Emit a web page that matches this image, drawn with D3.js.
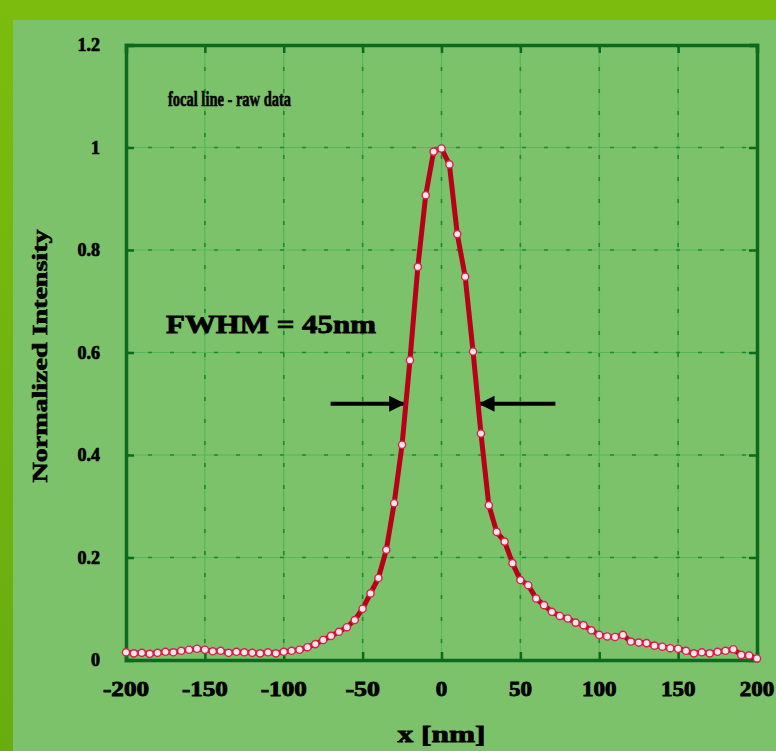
<!DOCTYPE html>
<html><head><meta charset="utf-8">
<script src="https://cdn.jsdelivr.net/npm/d3@7"></script>
<style>body{margin:0;background:#74b414;}svg{display:block}</style>
</head><body>
<svg id="c" width="776" height="751"></svg>
<script>
const xTicks = [-200,-150,-100,-50,0,50,100,150,200];
const yTicks = [0,0.2,0.4,0.6,0.8,1,1.2];
const yTickLabels = ["0","0.2","0.4","0.6","0.8","1","1.2"];
const xPos = [-200,-195,-190,-185,-180,-175,-170,-165,-160,-155,-150,-145,-140,-135,-130,-125,-120,-115,-110,-105,-100,-95,-90,-85,-80,-75,-70,-65,-60,-55,-50,-45,-40,-35,-30,-25,-20,-15,-10,-5,0,5,10,15,20,25,30,35,40,45,50,55,60,65,70,75,80,85,90,95,100,105,110,115,120,125,130,135,140,145,150,155,160,165,170,175,180,185,190,195,200];
const intensity = [0.015,0.013,0.014,0.012,0.014,0.016,0.015,0.018,0.020,0.022,0.020,0.017,0.018,0.014,0.016,0.015,0.014,0.013,0.015,0.013,0.016,0.018,0.020,0.025,0.031,0.039,0.047,0.055,0.064,0.078,0.100,0.130,0.160,0.215,0.306,0.420,0.585,0.767,0.907,0.992,0.998,0.967,0.831,0.748,0.602,0.442,0.302,0.250,0.231,0.189,0.156,0.146,0.120,0.107,0.094,0.086,0.081,0.073,0.068,0.058,0.049,0.046,0.045,0.049,0.036,0.034,0.033,0.028,0.026,0.023,0.022,0.018,0.013,0.015,0.013,0.016,0.018,0.021,0.010,0.009,0.003];
const annotations = ["focal line - raw data","FWHM = 45nm"];
const xTitle = "x [nm]";
const yTitle = "Normalized Intensity";

const svg = d3.select("#c");
const defs=svg.append("defs");
const grad=defs.append("linearGradient").attr("id","topg").attr("x1",0).attr("x2",0).attr("y1",0).attr("y2",1);
grad.append("stop").attr("offset","0%").attr("stop-color","#7cbc0e");
grad.append("stop").attr("offset","100%").attr("stop-color","#68ac10");
svg.append("rect").attr("x",0).attr("y",0).attr("width",776).attr("height",751).attr("fill","url(#topg)");
svg.append("rect").attr("x",13).attr("y",20).attr("width",763).attr("height",731).attr("fill","#7cc26a");

const L=126,R=757,T=45,B=660;
const x = d3.scaleLinear().domain([-200,200]).range([L,R]);
const y = d3.scaleLinear().domain([0,1.2]).range([B,T]);

const g = svg.append("g");
const gridCol="#58b65a", dashCol="#1f8a2a";
xTicks.slice(1,-1).forEach(t=>{
  g.append("line").attr("x1",x(t)).attr("x2",x(t)).attr("y1",T).attr("y2",B).attr("stroke",gridCol).attr("stroke-width",1.2);
  g.append("line").attr("x1",x(t)).attr("x2",x(t)).attr("y1",T).attr("y2",B).attr("stroke",dashCol).attr("stroke-width",1.6).attr("stroke-dasharray","4,18");
});
yTicks.slice(1,-1).forEach(t=>{
  g.append("line").attr("x1",L).attr("x2",R).attr("y1",y(t)).attr("y2",y(t)).attr("stroke",gridCol).attr("stroke-width",1.2);
  g.append("line").attr("x1",L).attr("x2",R).attr("y1",y(t)).attr("y2",y(t)).attr("stroke",dashCol).attr("stroke-width",1.6).attr("stroke-dasharray","4,18");
});

const frameCol="#0b6a1c";
const axB = d3.axisBottom(x).tickValues(xTicks).tickSize(-8).tickFormat("");
const axT = d3.axisTop(x).tickValues(xTicks).tickSize(-8).tickFormat("");
const axL = d3.axisLeft(y).tickValues(yTicks).tickSize(-8).tickFormat("");
const axR = d3.axisRight(y).tickValues(yTicks).tickSize(-8).tickFormat("");
[[axB,`translate(0,${B})`],[axT,`translate(0,${T})`],[axL,`translate(${L},0)`],[axR,`translate(${R},0)`]].forEach(([a,tr])=>{
  const s=g.append("g").attr("transform",tr).call(a);
  s.selectAll("path").attr("stroke",frameCol).attr("stroke-width",3.5);
  s.selectAll("line").attr("stroke",frameCol).attr("stroke-width",2.5);
});

const font="'Liberation Serif','Times New Roman',serif";
function heavy(sel,w){return sel.attr("font-family",font).attr("font-weight","bold").attr("fill","#000")
  .attr("stroke","#000").attr("stroke-width",w).attr("paint-order","stroke");}
heavy(svg.append("g").selectAll("text").data(xTicks).join("text")
  .attr("x",d=>x(d)).attr("y",696).attr("text-anchor","middle")
  .attr("font-size",20).attr("textLength",d=>String(d).length*11.5).attr("lengthAdjust","spacingAndGlyphs")
  .text(d=>String(d)),0.8);
heavy(svg.append("g").selectAll("text").data(yTicks).join("text")
  .attr("x",100).attr("y",d=>y(d)+6).attr("text-anchor","end")
  .attr("font-size",18).text((d,i)=>yTickLabels[i]),0.7);

heavy(svg.append("text").attr("x",x(0)).attr("y",742).attr("text-anchor","middle")
  .attr("font-size",24).attr("textLength",88).attr("lengthAdjust","spacingAndGlyphs").text(xTitle),0.8);
heavy(svg.append("text").attr("transform","translate(47,356) rotate(-90)").attr("text-anchor","middle")
  .attr("font-size",20).attr("textLength",253).attr("lengthAdjust","spacingAndGlyphs").text(yTitle),0.6);

heavy(svg.append("text").attr("x",168).attr("y",106)
  .attr("font-size",22).attr("textLength",123).attr("lengthAdjust","spacingAndGlyphs").text(annotations[0]),0.6);
heavy(svg.append("text").attr("x",166).attr("y",333)
  .attr("font-size",25).attr("textLength",210).attr("lengthAdjust","spacingAndGlyphs").text(annotations[1]),0.8);

defs.append("marker").attr("id","ah").attr("viewBox","0 0 10 10").attr("refX",10).attr("refY",5)
  .attr("markerWidth",5).attr("markerHeight",4).attr("markerUnits","strokeWidth").attr("orient","auto")
  .append("path").attr("d","M0,0 L10,5 L0,10 Z").attr("fill","#000");
const arrows=[[-70.3,-23],[72.2,23.5]];
arrows.forEach(([a,b])=>{
  svg.append("line").attr("x1",x(a)).attr("x2",x(b)).attr("y1",y(0.5)).attr("y2",y(0.5))
    .attr("stroke","#000").attr("stroke-width",4).attr("marker-end","url(#ah)");
});

const pts = xPos.map((v,i)=>[v,intensity[i]]);
svg.append("path").datum(pts).attr("fill","none").attr("stroke","#b8001a").attr("stroke-width",5)
  .attr("stroke-linejoin","round").attr("d",d3.line().x(d=>x(d[0])).y(d=>y(d[1])));
svg.append("g").selectAll("circle").data(pts).join("circle")
  .attr("cx",d=>x(d[0])).attr("cy",d=>y(d[1])).attr("r",3.6)
  .attr("fill","#ffe6ee").attr("stroke","#d8204a").attr("stroke-width",1.4);
</script>
</body></html>
